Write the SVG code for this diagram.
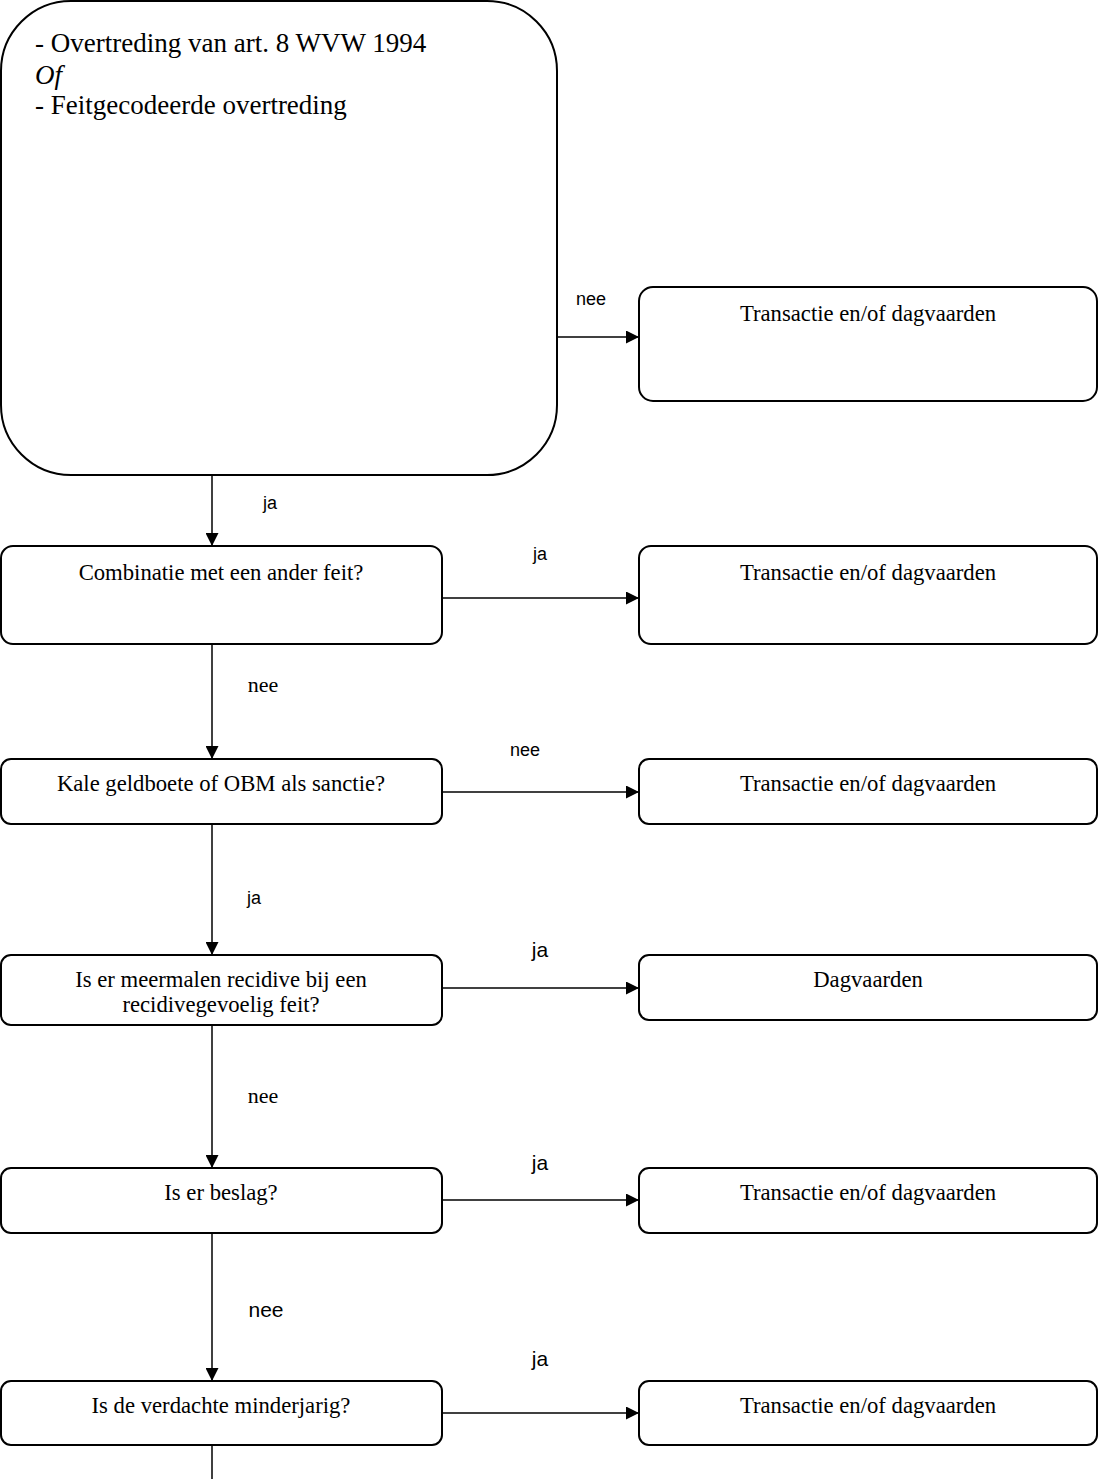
<svg xmlns="http://www.w3.org/2000/svg" width="1099" height="1479" viewBox="0 0 1099 1479">
<style>
.box{fill:#fff;stroke:#000;stroke-width:2}
.t{font-family:"Liberation Serif",serif;font-size:22.7px;fill:#000;text-anchor:middle}
.tl{font-family:"Liberation Serif",serif;font-size:27px;fill:#000}
.ls{font-family:"Liberation Sans",Arial,sans-serif;font-size:18px;fill:#000;text-anchor:middle}
.lb{font-family:"Liberation Sans",Arial,sans-serif;font-size:21px;fill:#000;text-anchor:middle}
.lr{font-family:"Liberation Serif",serif;font-size:22px;fill:#000;text-anchor:middle}
.c{stroke:#000;stroke-width:1.5;fill:none}
</style>
<defs>
<marker id="ah" viewBox="0 0 10 10" refX="10" refY="5" markerWidth="15" markerHeight="13" markerUnits="userSpaceOnUse" orient="auto">
<path d="M0,0 L10,5 L0,10 Z" fill="#000"/>
</marker>
</defs>
<g id="connectors">
<line class="c" x1="557" y1="337" x2="639" y2="337" marker-end="url(#ah)"/>
<line class="c" x1="212" y1="475" x2="212" y2="546" marker-end="url(#ah)"/>
<line class="c" x1="442" y1="598" x2="639" y2="598" marker-end="url(#ah)"/>
<line class="c" x1="212" y1="644" x2="212" y2="759" marker-end="url(#ah)"/>
<line class="c" x1="442" y1="792" x2="639" y2="792" marker-end="url(#ah)"/>
<line class="c" x1="212" y1="824" x2="212" y2="955" marker-end="url(#ah)"/>
<line class="c" x1="442" y1="988" x2="639" y2="988" marker-end="url(#ah)"/>
<line class="c" x1="212" y1="1025" x2="212" y2="1168" marker-end="url(#ah)"/>
<line class="c" x1="442" y1="1200" x2="639" y2="1200" marker-end="url(#ah)"/>
<line class="c" x1="212" y1="1233" x2="212" y2="1381" marker-end="url(#ah)"/>
<line class="c" x1="442" y1="1413" x2="639" y2="1413" marker-end="url(#ah)"/>
<line class="c" x1="212" y1="1445" x2="212" y2="1479"/>
<text class="ls" x="591" y="305">nee</text>
<text class="ls" x="270" y="509">ja</text>
<text class="ls" x="540" y="560">ja</text>
<text class="lr" x="263" y="692">nee</text>
<text class="ls" x="525" y="756">nee</text>
<text class="ls" x="254" y="904">ja</text>
<text class="lb" x="540" y="957">ja</text>
<text class="lr" x="263" y="1103">nee</text>
<text class="lb" x="540" y="1170">ja</text>
<text class="lb" x="266" y="1317">nee</text>
<text class="lb" x="540" y="1366">ja</text>
</g>
<g id="start">
<rect class="box" x="1" y="1" width="556" height="474" rx="70" ry="70"/>
<text class="tl" x="35" y="52">- Overtreding van art. 8 WVW 1994</text>
<text class="tl" x="35" y="84" font-style="italic">Of</text>
<text class="tl" x="35" y="114">- Feitgecodeerde overtreding</text>
</g>
<g id="r1">
<rect class="box" x="639" y="287" width="458" height="114" rx="14" ry="14"/>
<text class="t" x="868" y="321">Transactie en/of dagvaarden</text>
</g>
<g id="q1">
<rect class="box" x="1" y="546" width="441" height="98" rx="12" ry="12"/>
<text class="t" x="221" y="580">Combinatie met een ander feit?</text>
</g>
<g id="r2">
<rect class="box" x="639" y="546" width="458" height="98" rx="12" ry="12"/>
<text class="t" x="868" y="580">Transactie en/of dagvaarden</text>
</g>
<g id="q2">
<rect class="box" x="1" y="759" width="441" height="65" rx="10" ry="10"/>
<text class="t" x="221" y="791">Kale geldboete of OBM als sanctie?</text>
</g>
<g id="r3">
<rect class="box" x="639" y="759" width="458" height="65" rx="10" ry="10"/>
<text class="t" x="868" y="791">Transactie en/of dagvaarden</text>
</g>
<g id="q3">
<rect class="box" x="1" y="955" width="441" height="70" rx="10" ry="10"/>
<text class="t" x="221" y="987">Is er meermalen recidive bij een</text>
<text class="t" x="221" y="1012">recidivegevoelig feit?</text>
</g>
<g id="r4">
<rect class="box" x="639" y="955" width="458" height="65" rx="10" ry="10"/>
<text class="t" x="868" y="987">Dagvaarden</text>
</g>
<g id="q4">
<rect class="box" x="1" y="1168" width="441" height="65" rx="10" ry="10"/>
<text class="t" x="221" y="1200">Is er beslag?</text>
</g>
<g id="r5">
<rect class="box" x="639" y="1168" width="458" height="65" rx="10" ry="10"/>
<text class="t" x="868" y="1200">Transactie en/of dagvaarden</text>
</g>
<g id="q5">
<rect class="box" x="1" y="1381" width="441" height="64" rx="10" ry="10"/>
<text class="t" x="221" y="1413">Is de verdachte minderjarig?</text>
</g>
<g id="r6">
<rect class="box" x="639" y="1381" width="458" height="64" rx="10" ry="10"/>
<text class="t" x="868" y="1413">Transactie en/of dagvaarden</text>
</g>
</svg>
